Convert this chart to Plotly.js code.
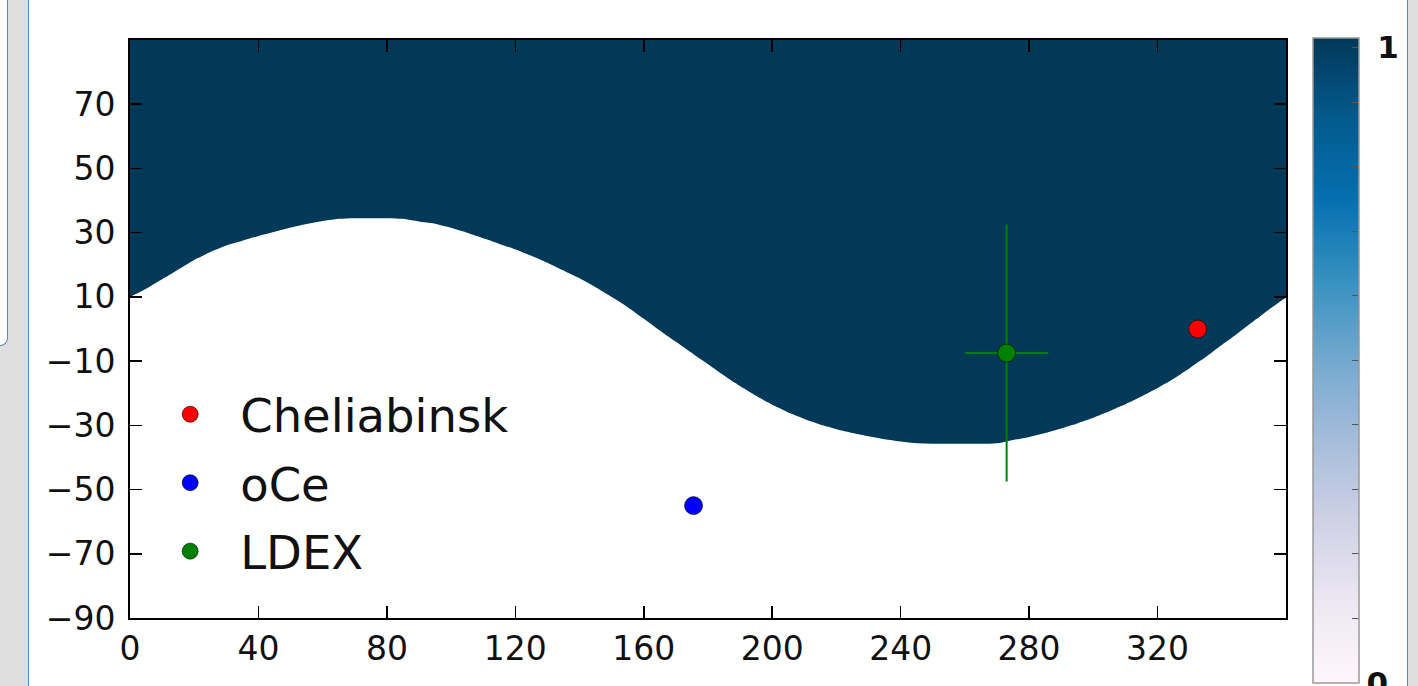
<!DOCTYPE html>
<html>
<head>
<meta charset="utf-8">
<script src="https://cdn.plot.ly/plotly-3.0.1.min.js"></script>
<style>
  html, body { margin: 0; padding: 0; background: #ffffff; overflow: hidden; }
  #wrap { position: relative; width: 1418px; height: 686px; }
  .deco { position: absolute; }
  #leftStrip { left: 0; top: 0; width: 28px; height: 686px; background: #dedede; }
  #leftLine { left: 28px; top: 0; width: 1px; height: 686px; background: #5b84cf; }
  #leftBox { left: 0; top: -2px; width: 7px; height: 347px; background: #ffffff;
             border-right: 1px solid #5b84cf; border-bottom: 1px solid #5b84cf;
             border-bottom-right-radius: 9px; }
  #rightStrip { left: 1408px; top: 0; width: 10px; height: 686px; background: #dedede; }
  #rightLine { left: 1407px; top: 0; width: 1px; height: 686px; background: #5b84cf; }
  #chart { position: absolute; left: 0; top: 0; width: 1418px; height: 686px; }
</style>
</head>
<body>
<div id="wrap">
  <div class="deco" id="leftStrip"></div>
  <div class="deco" id="leftBox"></div>
  <div class="deco" id="leftLine"></div>
  <div class="deco" id="rightStrip"></div>
  <div class="deco" id="rightLine"></div>
  <div id="chart"></div>
</div>
<script>
// ---- data ----
const lonGrid = [0,5,10,15,20,25,30,35,40,45,50,55,60,65,70,75,80,85,90,95,100,105,110,115,120,125,130,135,140,145,150,155,160,165,170,175,180,185,190,195,200,205,210,215,220,225,230,235,240,245,250,255,260,265,270,275,280,285,290,295,300,305,310,315,320,325,330,335,340,345,350,355,360];
const boundaryLat = [10,12.5,15.5,18.5,21.5,24,26,27.5,29,30.3,31.6,32.7,33.6,34.3,34.5,34.5,34.5,34.3,33.5,32.8,31.5,30,28.3,26.5,24.8,22.8,20.6,18.2,15.8,13,10,6.8,3.2,-0.5,-4,-7.5,-11,-14.5,-17.8,-20.8,-23.6,-26,-28,-29.8,-31.2,-32.4,-33.4,-34.3,-35,-35.6,-35.7,-35.7,-35.7,-35.7,-35.6,-34.6,-33.6,-32.4,-31,-29.4,-27.6,-25.6,-23.4,-21,-18.4,-15.5,-12.2,-8.7,-5,-1.3,2.5,6.3,9.8];
const latCenters = [];
for (let v = -89.5; v <= 89.5; v += 1) latCenters.push(v);
const latNodes = [];
for (let v = -90; v <= 90; v += 1) latNodes.push(v);

const seriesNames = ['Cheliabinsk', 'oCe', 'LDEX'];
const seriesColors = ['#ff0000', '#0000ff', '#008000'];
const seriesX = [332.5, 175.5, 273];
const seriesY = [0, -55, -7.5];
const ldexErrX = 13;
const ldexErrY = 40;

const xTicks = [0,40,80,120,160,200,240,280,320];
const yTicks = [-90,-70,-50,-30,-10,10,30,50,70];
const cbTicks = [0,0.1,0.2,0.3,0.4,0.5,0.6,0.7,0.8,0.9,0.986];
const cbTickText = ['0','','','','','','','','','','\u00a01'];

// matplotlib PuBu
const PuBu = [
  [0.0, '#fff7fb'], [0.125, '#ece7f2'], [0.25, '#d0d1e6'], [0.375, '#a6bddb'],
  [0.5, '#74a9cf'], [0.625, '#3690c0'], [0.75, '#0570b0'], [0.875, '#045a8d'], [1.0, '#023858']
];

// tables built from the boundary
const zMaskShown = latCenters.map(lat => boundaryLat.map(b => (lat > b ? 1 : null)));
const zAbove = latNodes.map(lat => boundaryLat.map(b => lat - b));   // >0 above the boundary

const traces = [];
// heatmap: the masked field and its colour bar
traces.push({
  type: 'heatmap',
  x: lonGrid,
  y: latCenters,
  z: zMaskShown,
  zmin: 0, zmax: 1,
  colorscale: PuBu,
  showscale: true,
  hoverinfo: 'skip',
  showlegend: false,
  colorbar: {
    thickness: 46, thicknessmode: 'pixels',
    len: 645, lenmode: 'pixels',
    x: 1.0225, xanchor: 'left', xpad: 0,
    y: 1.0035, yanchor: 'top', ypad: 0,
    outlinecolor: '#999999', outlinewidth: 1.5,
    tickvals: cbTicks, ticktext: cbTickText,
    ticks: 'inside', ticklen: 7, tickwidth: 1, tickcolor: '#555555',
    ticklabelposition: 'outside',
    ticklabeloverflow: 'allow',
    tickfont: { family: 'DejaVu Sans', size: 31, color: '#111111', weight: 'bold' }
  }
});
// same mask, drawn with its edge following the boundary line
traces.push({
  type: 'contour',
  x: lonGrid,
  y: latNodes,
  z: zAbove,
  autocontour: false,
  contours: { start: 0, end: 0, size: 1, coloring: 'fill', showlines: false },
  colorscale: [[0, '#ffffff'], [1, '#023858']],
  line: { width: 0 },
  showscale: false,
  hoverinfo: 'skip',
  showlegend: false
});

for (let i = 0; i < seriesNames.length; i++) {
  const t = {
    type: 'scatter', mode: 'markers',
    name: seriesNames[i],
    x: [seriesX[i]], y: [seriesY[i]],
    legendgroup: 'g' + i,
    marker: { color: seriesColors[i], size: 18, line: { color: 'rgba(0,0,0,0.6)', width: 1 } },
    hoverinfo: 'skip'
  };
  if (seriesNames[i] === 'LDEX') {
    t.error_x = { type: 'data', array: [ldexErrX], color: seriesColors[i], thickness: 2, width: 0 };
    t.error_y = { type: 'data', array: [ldexErrY], color: seriesColors[i], thickness: 2, width: 0 };
  }
  traces.push(t);
}

const axisCommon = {
  showgrid: false, zeroline: false,
  showline: true, linecolor: '#000000', linewidth: 2, mirror: 'ticks',
  ticks: 'inside', ticklen: 12, tickwidth: 1.5, tickcolor: '#000000',
  tickfont: { family: 'DejaVu Sans', size: 33, color: '#111111' }
};

const layout = {
  width: 1418, height: 686,
  margin: { l: 130, r: 131, t: 40, b: 68, pad: 0 },
  paper_bgcolor: 'rgba(0,0,0,0)',
  plot_bgcolor: '#ffffff',
  showlegend: true,
  legend: {
    x: 0.0088, y: 0.051, xanchor: 'left', yanchor: 'bottom',
    bgcolor: 'rgba(0,0,0,0)', borderwidth: 0,
    font: { family: 'DejaVu Sans', size: 46.5, color: '#111111' },
    itemwidth: 90, tracegroupgap: 5
  },
  xaxis: Object.assign({}, axisCommon, {
    range: [0, 360], tickvals: xTicks, ticktext: xTicks.map(String), ticklabelstandoff: 0
  }),
  yaxis: Object.assign({}, axisCommon, {
    range: [-90, 90], tickvals: yTicks, ticklabelstandoff: 6
  })
};

Plotly.newPlot('chart', traces, layout, { staticPlot: true, displayModeBar: false });
</script>
</body>
</html>
